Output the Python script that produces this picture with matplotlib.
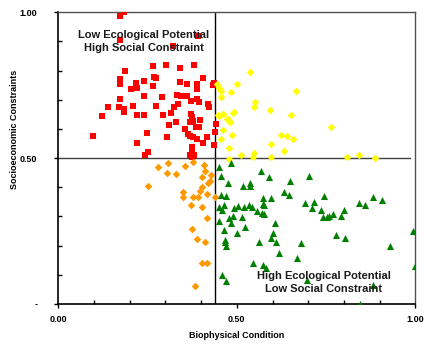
import numpy as np
import matplotlib.pyplot as plt
from matplotlib.ticker import MultipleLocator, FixedLocator

plt.rcParams['font.family'] = ['Liberation Sans', 'DejaVu Sans']
plt.rcParams['font.weight'] = 'bold'

# Quadrant data (biophysical condition, socioeconomic constraints)
red_x = [0.185, 0.174, 0.174, 0.390, 0.320, 0.187, 0.264, 0.302, 0.342, 0.381,
         0.405, 0.174, 0.174, 0.269, 0.274, 0.239, 0.218, 0.221, 0.204, 0.264,
         0.342, 0.360, 0.389, 0.389, 0.433, 0.437, 0.239, 0.290, 0.332, 0.344,
         0.360, 0.389, 0.372, 0.394, 0.173, 0.140, 0.171, 0.184, 0.183, 0.210,
         0.274, 0.336, 0.325, 0.420, 0.423, 0.122, 0.220, 0.241, 0.294, 0.315,
         0.372, 0.374, 0.378, 0.369, 0.329, 0.311, 0.396, 0.385, 0.394, 0.355,
         0.441, 0.438, 0.098, 0.248, 0.305, 0.362, 0.369, 0.378, 0.388, 0.404,
         0.417, 0.220, 0.435, 0.252, 0.243, 0.374, 0.375, 0.369, 0.381, 0.374]
red_y = [1.000, 0.987, 0.906, 0.919, 0.885, 0.800, 0.814, 0.820, 0.810, 0.818,
         0.776, 0.770, 0.754, 0.779, 0.773, 0.765, 0.757, 0.739, 0.736, 0.746,
         0.760, 0.754, 0.754, 0.738, 0.749, 0.758, 0.712, 0.708, 0.717, 0.712,
         0.712, 0.703, 0.695, 0.692, 0.701, 0.675, 0.675, 0.669, 0.657, 0.680,
         0.679, 0.684, 0.674, 0.686, 0.674, 0.643, 0.649, 0.649, 0.646, 0.656,
         0.650, 0.640, 0.628, 0.623, 0.623, 0.612, 0.629, 0.606, 0.606, 0.600,
         0.617, 0.589, 0.577, 0.587, 0.572, 0.583, 0.577, 0.572, 0.564, 0.552,
         0.572, 0.551, 0.545, 0.522, 0.512, 0.537, 0.520, 0.512, 0.512, 0.503]

yellow_x = [0.537, 0.500, 0.449, 0.457, 0.484, 0.665, 0.455, 0.551, 0.548, 0.593,
            0.491, 0.461, 0.449, 0.653, 0.473, 0.482, 0.764, 0.461, 0.487, 0.455,
            0.625, 0.641, 0.658, 0.595, 0.479, 0.633, 0.511, 0.549, 0.544, 0.596,
            0.479, 0.809, 0.841, 0.888, 0.444, 0.448, 0.461, 0.490, 0.475, 0.481]
yellow_y = [0.794, 0.753, 0.740, 0.730, 0.725, 0.729, 0.709, 0.692, 0.675, 0.663,
            0.657, 0.652, 0.645, 0.646, 0.635, 0.624, 0.606, 0.595, 0.578, 0.566,
            0.578, 0.575, 0.564, 0.547, 0.534, 0.525, 0.511, 0.518, 0.505, 0.503,
            0.497, 0.503, 0.512, 0.499, 0.753, 0.646, 0.650, 0.655, 0.635, 0.623]

orange_x = [0.278, 0.308, 0.304, 0.330, 0.355, 0.376, 0.407, 0.411, 0.427, 0.403,
            0.425, 0.418, 0.250, 0.402, 0.397, 0.350, 0.417, 0.350, 0.378, 0.390,
            0.439, 0.372, 0.402, 0.417, 0.374, 0.388, 0.412, 0.403, 0.416, 0.382]
orange_y = [0.470, 0.482, 0.448, 0.446, 0.472, 0.486, 0.475, 0.455, 0.442, 0.434,
            0.420, 0.416, 0.403, 0.400, 0.388, 0.384, 0.378, 0.365, 0.365, 0.365,
            0.365, 0.339, 0.334, 0.296, 0.257, 0.223, 0.211, 0.141, 0.141, 0.062]

green_x = [0.449, 0.484, 0.457, 0.568, 0.591, 0.701, 0.516, 0.537, 0.537, 0.650,
           0.633, 0.647, 0.455, 0.470, 0.573, 0.595, 0.743, 0.882, 0.908, 0.843,
           0.858, 0.692, 0.717, 0.449, 0.463, 0.459, 0.504, 0.521, 0.534, 0.542,
           0.491, 0.573, 0.576, 0.556, 0.571, 0.577, 0.712, 0.736, 0.799, 0.769,
           0.791, 0.741, 0.752, 0.758, 0.479, 0.488, 0.514, 0.449, 0.484, 0.524,
           0.608, 0.465, 0.500, 0.601, 0.596, 0.466, 0.467, 0.470, 0.561, 0.611,
           0.618, 0.680, 0.779, 0.803, 0.928, 0.993, 1.000, 0.546, 0.574, 0.583,
           0.668, 0.459, 0.469, 0.697, 0.882, 0.846, 0.475]
green_y = [0.468, 0.483, 0.437, 0.456, 0.435, 0.439, 0.404, 0.415, 0.403, 0.423,
           0.382, 0.375, 0.375, 0.371, 0.362, 0.362, 0.369, 0.365, 0.355, 0.347,
           0.340, 0.347, 0.351, 0.334, 0.340, 0.323, 0.337, 0.331, 0.339, 0.334,
           0.329, 0.344, 0.339, 0.320, 0.313, 0.308, 0.329, 0.323, 0.323, 0.308,
           0.302, 0.298, 0.298, 0.302, 0.296, 0.301, 0.298, 0.285, 0.277, 0.264,
           0.277, 0.254, 0.244, 0.244, 0.227, 0.220, 0.211, 0.199, 0.214, 0.211,
           0.176, 0.209, 0.237, 0.226, 0.200, 0.250, 0.131, 0.140, 0.134, 0.123,
           0.156, 0.099, 0.079, 0.082, 0.064, 0.000, 0.415]

x_split = 0.44
y_split = 0.50

fig = plt.figure(figsize=(4.24, 3.47), dpi=100)
ax = fig.add_axes([0.1375, 0.124, 0.842, 0.841])

ax.scatter(red_x, red_y, marker='s', s=22, color='#FF0000', zorder=3, linewidths=0)
ax.scatter(yellow_x, yellow_y, marker='D', s=15, color='#FFFF00', zorder=3, linewidths=0)
ax.scatter(orange_x, orange_y, marker='D', s=15, color='#FF9900', zorder=3, linewidths=0)
ax.scatter(green_x, green_y, marker='^', s=26, color='#008000', zorder=3, linewidths=0)

# quadrant dividers
ax.plot([x_split, x_split], [0, 1], color='black', lw=1, zorder=2)
ax.plot([0, 0.985], [y_split, y_split], color='#404040', lw=1, zorder=2)

ax.text(0.24, 0.90, 'Low Ecological Potential\nHigh Social Constraint', ha='center',
        va='center', fontsize=8, fontweight='bold', linespacing=1.35, color='#1a1a1a')
ax.text(0.743, 0.074, 'High Ecological Potential\nLow Social Constraint', ha='center',
        va='center', fontsize=8, fontweight='bold', linespacing=1.35, color='#1a1a1a')

ax.set_xlim(0, 1)
ax.set_ylim(0, 1)
ax.xaxis.set_major_locator(FixedLocator([0, 0.5, 1.0]))
ax.yaxis.set_major_locator(FixedLocator([0, 0.5, 1.0]))
ax.xaxis.set_minor_locator(MultipleLocator(0.1))
ax.yaxis.set_minor_locator(MultipleLocator(0.1))
ax.set_xticklabels(['0.00', '0.50', '1.00'])
ax.set_yticklabels(['-', '0.50', '1.00'])
ax.tick_params(which='major', direction='out', length=3, width=1, labelsize=6.5, pad=5)
ax.tick_params(axis='y', which='major', pad=12)
ax.tick_params(which='minor', direction='in', length=3, width=1)

for s in ['left', 'bottom']:
    ax.spines[s].set_color('black')
    ax.spines[s].set_linewidth(1.2)
for s in ['top', 'right']:
    ax.spines[s].set_color('#505050')
    ax.spines[s].set_linewidth(1)

ax.set_xlabel('Biophysical Condition', fontsize=6.5, fontweight='bold', va='top')
ax.set_ylabel('Socioeconomic Constraints', fontsize=6.5, fontweight='bold')
ax.xaxis.set_label_coords(0.5, -0.093)
ax.yaxis.set_label_coords(-0.11, 0.6)

fig.savefig('out.png', dpi=100)
